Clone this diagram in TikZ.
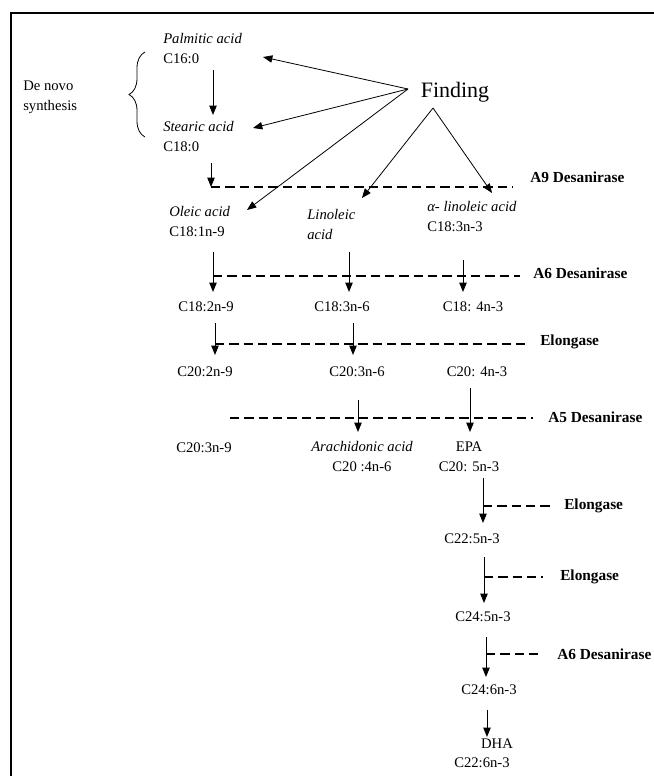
\documentclass[tikz,border=0pt]{standalone}
\usepackage{fontspec}
\setmainfont{Liberation Serif}
\usetikzlibrary{arrows.meta,decorations.pathreplacing}

\begin{document}
\begin{tikzpicture}[x=0.75pt,y=-0.75pt,
  acid/.style={inner sep=0pt, font=\fontsize{11}{15}\selectfont},
  enzyme/.style={inner sep=0pt, anchor=west, font=\fontsize{11.5}{14}\selectfont\bfseries},
  flow/.style={line width=0.75pt, -{Triangle[length=7pt,width=5.5pt]}},
  source/.style={line width=0.6pt, -{Triangle[length=7pt,width=5.5pt]}},
  enzline/.style={line width=1.8pt, dash pattern=on 7pt off 3.75pt}]
  \useasboundingbox (0,0) rectangle (654,776);
  \draw [line width=1.5pt] (11,776) -- (11,13) -- (654,13);

  \node[acid, anchor=west, align=left] (palmitic) at (163,49) {\textit{Palmitic acid}\\C16:0};
  \node[acid, anchor=west, align=left] (stearic) at (163,137) {\textit{Stearic acid}\\C18:0};
  \node[acid, anchor=west, align=left] (denovo) at (23,97) {De novo\\synthesis};
  \node[inner sep=0pt, font=\fontsize{16.5}{18}\selectfont] (finding) at (455,92) {Finding};
  \node[acid, anchor=west, align=left] (oleic) at (169,222) {\textit{Oleic acid}\\C18:1n-9};
  \node[acid, anchor=west, align=left] (linoleic) at (307,224) {\textit{Linoleic}\\\textit{acid}};
  \node[acid, anchor=west, align=left] (alinolenic) at (427,217) {\textit{α- linoleic acid}\\C18:3n-3};
  \node[acid] (c18two) at (206,307) {C18:2n-9};
  \node[acid] (c18three) at (342,307) {C18:3n-6};
  \node[acid] (c18four) at (473,307) {C18: 4n-3};
  \node[acid] (c20two) at (205,372) {C20:2n-9};
  \node[acid] (c20three) at (357,372) {C20:3n-6};
  \node[acid] (c20four) at (477,372) {C20: 4n-3};
  \node[acid] (meadacid) at (204,448) {C20:3n-9};
  \node[acid, align=center] (arachidonic) at (362,457) {\textit{Arachidonic acid}\\C20 :4n-6};
  \node[acid, align=center] (epa) at (469,457) {EPA\\C20: 5n-3};
  \node[acid] (c22five) at (472,539) {C22:5n-3};
  \node[acid] (c24five) at (483,617) {C24:5n-3};
  \node[acid] (c24six) at (489,690) {C24:6n-3};
  \node[acid] (dha) at (497,744) {DHA};
  \node[acid] (dhaform) at (482,763) {C22:6n-3};

  \node[enzyme] (desaturaseA) at (530,177) {A9 Desanirase};
  \node[enzyme] (desaturaseB) at (533,273) {A6 Desanirase};
  \node[enzyme] (elongaseA) at (540,342) {Elongase};
  \node[enzyme] (desaturaseC) at (548,417) {A5 Desanirase};
  \node[enzyme] (elongaseB) at (564,506) {Elongase};
  \node[enzyme] (elongaseC) at (560,577) {Elongase};
  \node[enzyme] (desaturaseD) at (557,654) {A6 Desanirase};

  \draw [line width=0.6pt, decorate, decoration={brace, amplitude=12pt}] (145,137) -- (145,52);

  \coordinate (finding-w) at (408,89);
  \coordinate (finding-s) at (433,108);
  \coordinate (palmitic-in) at (263,57);
  \coordinate (stearic-in) at (253,128);
  \coordinate (oleic-in) at (247,210);
  \coordinate (linoleic-in) at (362,198);
  \coordinate (alinolenic-in) at (492,193);
  \draw [source] (finding-w) -- (palmitic-in);
  \draw [source] (finding-w) -- (stearic-in);
  \draw [source] (finding-w) -- (oleic-in);
  \draw [source] (finding-s) -- (linoleic-in);
  \draw [source] (finding-s) -- (alinolenic-in);

  \coordinate (palmitic-out) at (213,70);
  \coordinate (stearic-top) at (213,115);
  \coordinate (stearic-out) at (211,163);
  \coordinate (desaturaseA-l) at (211,187);
  \coordinate (desaturaseA-r) at (513,187);
  \coordinate (oleic-out) at (213,252);
  \coordinate (c18two-top) at (213,292);
  \coordinate (linoleic-out) at (349,252);
  \coordinate (c18three-top) at (349,292);
  \coordinate (alinolenic-out) at (463,260);
  \coordinate (c18four-top) at (463,292);
  \coordinate (desaturaseB-l) at (213,276);
  \coordinate (desaturaseB-r) at (520,276);
  \coordinate (c18two-out) at (215,323);
  \coordinate (c20two-top) at (215,355);
  \coordinate (c18three-out) at (353,323);
  \coordinate (c20three-top) at (353,355);
  \coordinate (elongaseA-l) at (215,344);
  \coordinate (elongaseA-r) at (525,344);
  \coordinate (c20three-out) at (358,400);
  \coordinate (arachidonic-top) at (358,432);
  \coordinate (c20four-out) at (470,388);
  \coordinate (epa-top) at (470,432);
  \coordinate (desaturaseC-l) at (230,418);
  \coordinate (desaturaseC-r) at (533,418);
  \coordinate (epa-out) at (483,478);
  \coordinate (c22five-top) at (483,523);
  \coordinate (elongaseB-l) at (483,506);
  \coordinate (elongaseB-r) at (552,506);
  \coordinate (c22five-out) at (484,557);
  \coordinate (c24five-top) at (484,603);
  \coordinate (elongaseC-l) at (484,577);
  \coordinate (elongaseC-r) at (543,577);
  \coordinate (c24five-out) at (486,637);
  \coordinate (c24six-top) at (486,677);
  \coordinate (desaturaseD-l) at (486,654);
  \coordinate (desaturaseD-r) at (543,654);
  \coordinate (c24six-out) at (487,710);
  \coordinate (dha-top) at (487,737);

  \draw [flow] (palmitic-out) -- (stearic-top);
  \draw [flow] (stearic-out) -- (desaturaseA-l);
  \draw [flow] (oleic-out) -- (c18two-top);
  \draw [flow] (linoleic-out) -- (c18three-top);
  \draw [flow] (alinolenic-out) -- (c18four-top);
  \draw [flow] (c18two-out) -- (c20two-top);
  \draw [flow] (c18three-out) -- (c20three-top);
  \draw [flow] (c20three-out) -- (arachidonic-top);
  \draw [flow] (c20four-out) -- (epa-top);
  \draw [flow] (epa-out) -- (c22five-top);
  \draw [flow] (c22five-out) -- (c24five-top);
  \draw [flow] (c24five-out) -- (c24six-top);
  \draw [flow] (c24six-out) -- (dha-top);

  \draw [enzline] (desaturaseA-l) -- (desaturaseA-r);
  \draw [enzline] (desaturaseB-l) -- (desaturaseB-r);
  \draw [enzline] (elongaseA-l) -- (elongaseA-r);
  \draw [enzline] (desaturaseC-l) -- (desaturaseC-r);
  \draw [enzline] (elongaseB-l) -- (elongaseB-r);
  \draw [enzline] (elongaseC-l) -- (elongaseC-r);
  \draw [enzline] (desaturaseD-l) -- (desaturaseD-r);
\end{tikzpicture}
\end{document}
